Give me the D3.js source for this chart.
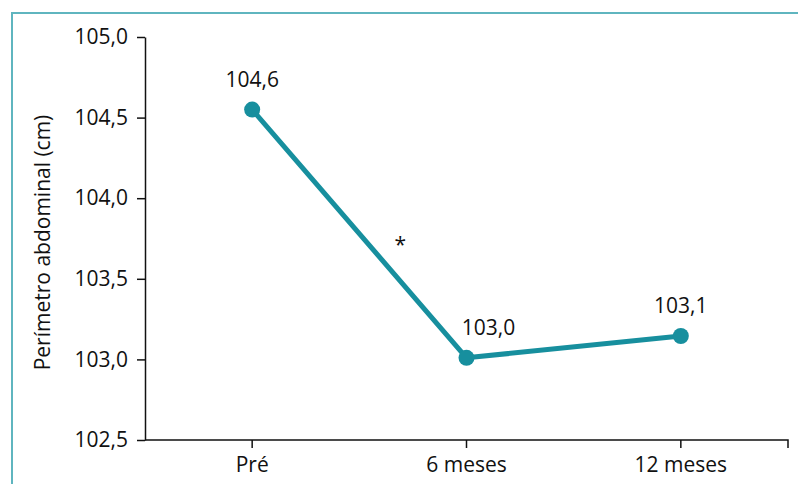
<!DOCTYPE html>
<html><head><meta charset="utf-8">
<script src="https://cdn.jsdelivr.net/npm/d3@7"></script>
<style>
html,body{margin:0;padding:0;background:#fff;}
svg{display:block;}
text{font-family:"Open Sans","Noto Sans",sans-serif;}
</style></head>
<body>
<svg id="c" width="798" height="484"></svg>
<script>
const categories = ["Pré", "6 meses", "12 meses"];
const values = [104.55, 103.01, 103.145];
const valueLabels = ["104,6", "103,0", "103,1"];
const labelShift = [0, 22, 0];
const yTicks = [102.5, 103.0, 103.5, 104.0, 104.5, 105.0];
const yTitle = "Perímetro abdominal (cm)";
const annotation = "*";

const svg = d3.select("#c");
const W = 798, H = 484;
const m = {left:145, right:10, top:37, bottom:44};

// frame
svg.append("path")
  .attr("d", `M12,${H} L12,13 L${W},13`)
  .attr("fill","none").attr("stroke","#5fb5bf").attr("stroke-width",2);

const x = d3.scaleBand().domain(categories).range([m.left, W - m.right]).padding(0);
const y = d3.scaleLinear().domain([102.5, 105.0]).range([H - m.bottom, m.top]);

const fmt = d => d.toFixed(1).replace(".", ",");

const yAxis = svg.append("g").attr("transform", `translate(${m.left},0)`)
  .call(d3.axisLeft(y).tickValues(yTicks).tickFormat(fmt).tickSize(8).tickSizeOuter(0).tickPadding(9));
yAxis.selectAll("text").attr("font-size", 21).attr("fill","#111");

const xAxis = svg.append("g").attr("transform", `translate(0,${H - m.bottom})`)
  .call(d3.axisBottom(x).tickSize(8).tickSizeOuter(0).tickPadding(9));
xAxis.selectAll("text").attr("font-size", 21).attr("fill","#111");
// right end tick
xAxis.select(".domain").attr("d", `M${m.left},0H${W - m.right}V8`);
[yAxis, xAxis].forEach(a => a.selectAll("line,path").attr("stroke","#111").attr("stroke-width",1.5));

svg.append("text")
  .attr("transform", `translate(50,${(y(105)+y(102.5))/2 + 4}) rotate(-90)`)
  .attr("text-anchor","middle").attr("font-size",21).attr("fill","#111")
  .text(yTitle);

const cx = (d,i) => x(categories[i]) + x.bandwidth()/2;
const line = d3.line().x((d,i)=>cx(d,i)).y(d=>y(d));
svg.append("path").datum(values).attr("d", line)
  .attr("fill","none").attr("stroke","#178f9e").attr("stroke-width",5).attr("stroke-linejoin","round");

svg.selectAll("circle.p").data(values).join("circle")
  .attr("cx",(d,i)=>cx(d,i)).attr("cy",d=>y(d)).attr("r",8).attr("fill","#178f9e");

svg.selectAll("text.v").data(values).join("text")
  .attr("x",(d,i)=>cx(d,i) + labelShift[i]).attr("y",d=>y(d)-23)
  .attr("text-anchor","middle").attr("font-size",21).attr("fill","#111")
  .text((d,i)=>valueLabels[i]);

// asterisk near midpoint of first segment
svg.append("text")
  .attr("x", (cx(0,0)+cx(0,1))/2 + 41)
  .attr("y", y((values[0]+values[1])/2) + 18)
  .attr("text-anchor","middle").attr("font-size",21).attr("fill","#111")
  .text(annotation);
</script>
</body></html>
